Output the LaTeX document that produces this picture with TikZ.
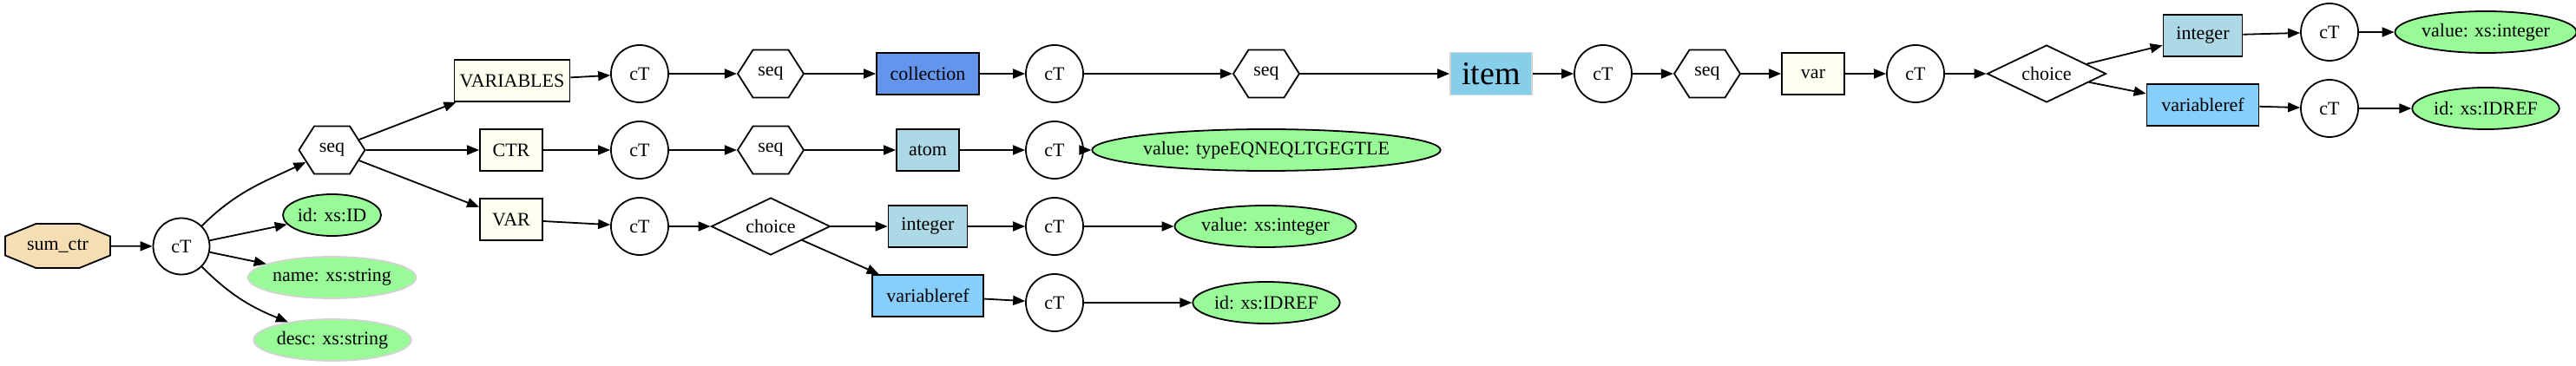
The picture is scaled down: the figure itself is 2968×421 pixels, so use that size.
\documentclass[tikz,border=0pt]{standalone}
\usepackage{fontspec}
\setmainfont{Liberation Serif}
\usetikzlibrary{shapes.geometric,shapes.symbols,arrows.meta}
\definecolor{wheatc}{HTML}{F5DEB3}
\definecolor{ivoryc}{HTML}{FFFFF0}
\definecolor{cornflower}{HTML}{6495ED}
\definecolor{lightbluec}{HTML}{ADD8E6}
\definecolor{lightskyc}{HTML}{87CEFA}
\definecolor{skybluec}{HTML}{87CEEB}
\definecolor{palegreenc}{HTML}{98FB98}
\definecolor{lgrayc}{HTML}{D3D3D3}
\begin{document}
\begin{tikzpicture}[x=1pt,y=1pt,
  every node/.style={font=\fontsize{22}{26}\selectfont, inner sep=0pt, line width=1.8pt},
  box/.style={rectangle, draw=black, minimum height=48},
  ctc/.style={circle, draw=black, minimum size=66},
  hexa/.style={signal, signal to=east and west, signal pointer angle=115, draw=black, minimum width=76, minimum height=55},
  choicebox/.style={diamond, draw=black, minimum width=137, minimum height=66, aspect=2},
  leaf/.style={ellipse, draw=black, fill=palegreenc, minimum height=48},
  leafg/.style={ellipse, draw=lgrayc, fill=palegreenc, minimum height=48},
  octo/.style={rectangle, draw=none, minimum width=121, minimum height=51},
  edge/.style={line width=1.8pt, -{Triangle[length=14,width=11]}},
]
\useasboundingbox (0,0) rectangle (2968,421);
% octagon outline of sum_ctr
\draw[fill=wheatc, line width=1.8pt, shift={(66.5,137.5)}]
  (-60.5,11) -- (-25,25.5) -- (25,25.5) -- (60.5,11) -- (60.5,-11) -- (25,-25.5) -- (-25,-25.5) -- (-60.5,-11) -- cycle;
\node[octo] (sumctr) at (66.5,137.5) {sum\_ctr};
\node[ctc, minimum size=65] (ct0) at (209,137) {cT};
\node[hexa] (seq0) at (382.5,248) {seq};
\node[leaf, minimum width=113] (idID) at (382.5,173) {id: xs:ID};
\node[leafg, minimum width=185] (nameS) at (382.5,101) {name: xs:string};
\node[leafg, minimum width=174] (descS) at (383,29) {desc: xs:string};
% row 1
\node[box, fill=ivoryc, minimum width=133] (VARIABLES) at (590,328) {VARIABLES};
\node[ctc] (ct1) at (737,336) {cT};
\node[hexa] (seq1) at (888,336) {seq};
\node[box, fill=cornflower, minimum width=118] (collection) at (1069,336) {collection};
\node[ctc] (ct4) at (1215,336) {cT};
\node[hexa] (seq4) at (1459,336) {seq};
\node[rectangle, draw=lgrayc, fill=skybluec, minimum width=94, minimum height=49, font=\fontsize{38}{42}\selectfont] (item) at (1718,336) {item};
\node[ctc] (ct8) at (1847,336) {cT};
\node[hexa] (seq5) at (1967,336) {seq};
\node[box, fill=ivoryc, minimum width=72] (var) at (2089,336) {var};
\node[ctc] (ct9) at (2207,336) {cT};
\node[choicebox] (choice9) at (2358,336) {choice};
\node[box, fill=lightbluec, minimum width=91] (integer9) at (2538,380) {integer};
\node[box, fill=lightskyc, minimum width=129] (varref9) at (2538,300) {variableref};
\node[ctc] (ct10) at (2684,384) {cT};
\node[ctc] (ct11) at (2684,296) {cT};
\node[leaf, minimum width=196] (valInt9) at (2864,384) {value: xs:integer};
\node[leaf, minimum width=153] (idref9) at (2864,296) {id: xs:IDREF};
% row 2
\node[box, fill=ivoryc, minimum width=72] (CTR) at (589,248) {CTR};
\node[ctc] (ct2) at (737,248) {cT};
\node[hexa] (seq2) at (888,248) {seq};
\node[box, fill=lightbluec, minimum width=72] (atom) at (1069,248) {atom};
\node[ctc] (ct5) at (1215,248) {cT};
\node[leaf, minimum width=323] (valType) at (1459,248) {value: typeEQNEQLTGEGTLE};
% row 3
\node[box, fill=ivoryc, minimum width=72] (VAR) at (589,168) {VAR};
\node[ctc] (ct3) at (737,160) {cT};
\node[choicebox] (choice3) at (888,160) {choice};
\node[box, fill=lightbluec, minimum width=91] (integer3) at (1069,160) {integer};
\node[box, fill=lightskyc, minimum width=128] (varref3) at (1069,80) {variableref};
\node[ctc] (ct6) at (1215,160) {cT};
\node[ctc] (ct7) at (1215,72) {cT};
\node[leaf, minimum width=195] (valInt3) at (1458,160) {value: xs:integer};
\node[leaf, minimum width=152] (idref3) at (1459,72) {id: xs:IDREF};
% edges
\draw[edge] (sumctr) -- (ct0);
\draw[edge] (ct0) to[out=45,in=205] (seq0);
\draw[edge] (ct0) -- (idID);
\draw[edge] (ct0) -- (nameS);
\draw[edge] (ct0) to[out=-45,in=158] (descS);
\draw[edge] (seq0) -- (VARIABLES);
\draw[edge] (seq0) -- (CTR);
\draw[edge] (seq0) -- (VAR);
\draw[edge] (VARIABLES) -- (ct1);
\draw[edge] (ct1) -- (seq1);
\draw[edge] (seq1) -- (collection);
\draw[edge] (collection) -- (ct4);
\draw[edge] (ct4) -- (seq4);
\draw[edge] (seq4) -- (item);
\draw[edge] (item) -- (ct8);
\draw[edge] (ct8) -- (seq5);
\draw[edge] (seq5) -- (var);
\draw[edge] (var) -- (ct9);
\draw[edge] (ct9) -- (choice9);
\draw[edge] (choice9) -- (integer9);
\draw[edge] (choice9) -- (varref9);
\draw[edge] (integer9) -- (ct10);
\draw[edge] (ct10) -- (valInt9);
\draw[edge] (varref9) -- (ct11);
\draw[edge] (ct11) -- (idref9);
\draw[edge] (CTR) -- (ct2);
\draw[edge] (ct2) -- (seq2);
\draw[edge] (seq2) -- (atom);
\draw[edge] (atom) -- (ct5);
\draw[edge] (ct5) -- (valType);
\draw[edge] (VAR) -- (ct3);
\draw[edge] (ct3) -- (choice3);
\draw[edge] (choice3) -- (integer3);
\draw[edge] (choice3) -- (varref3);
\draw[edge] (integer3) -- (ct6);
\draw[edge] (ct6) -- (valInt3);
\draw[edge] (varref3) -- (ct7);
\draw[edge] (ct7) -- (idref3);
\end{tikzpicture}
\end{document}
